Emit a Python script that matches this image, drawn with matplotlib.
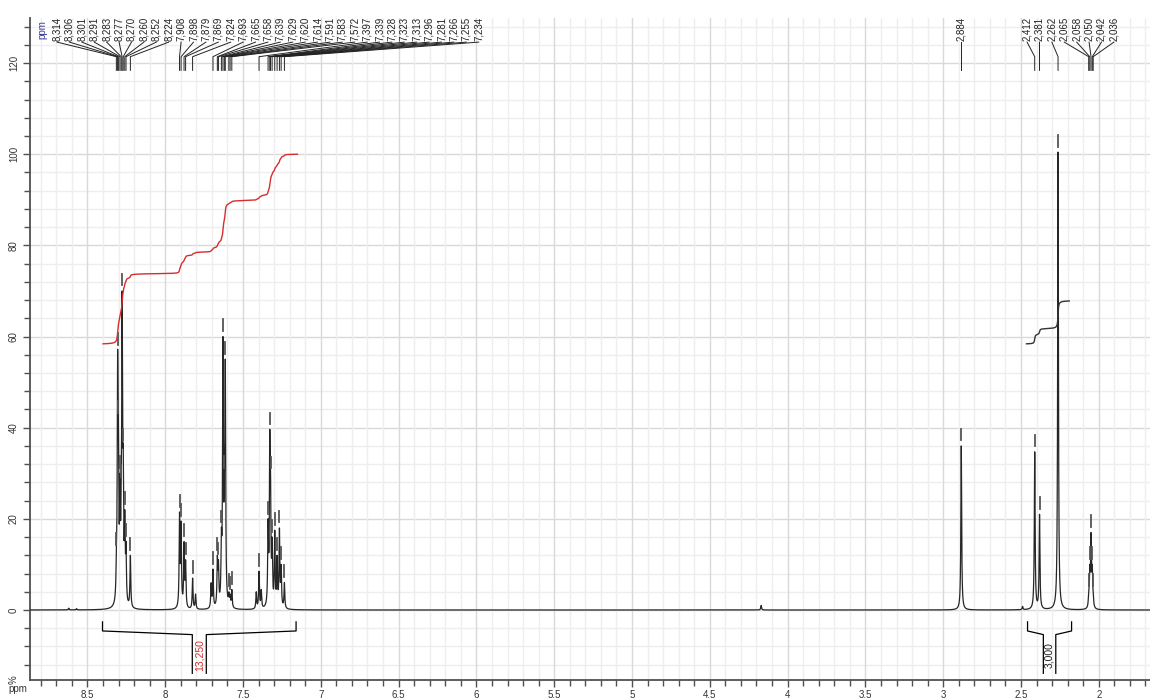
import matplotlib
matplotlib.use("Agg")
import matplotlib.pyplot as plt
import numpy as np
from matplotlib.ticker import MultipleLocator

plt.rcParams["font.family"] = ["Liberation Sans", "DejaVu Sans"]

# picked peaks: position (ppm), label and height (%)
PEAK_PPM = [8.314, 8.306, 8.301, 8.291, 8.283, 8.277, 8.270, 8.260, 8.252, 8.224,
            7.908, 7.898, 7.879, 7.869, 7.824,
            7.693, 7.665, 7.658, 7.639, 7.629, 7.620, 7.614, 7.591, 7.583, 7.572,
            7.397, 7.339, 7.328, 7.323, 7.313, 7.296, 7.281, 7.266, 7.255, 7.234,
            2.884,
            2.412, 2.381, 2.262, 2.065, 2.058, 2.050, 2.042, 2.036]
PEAK_LABELS = [f"{p:.3f}".replace(".", ",") for p in PEAK_PPM]
PEAK_HEIGHT = [13, 57, 42, 30, 28, 70, 36, 22, 15, 12,
               21.5, 19.5, 15, 11, 7,
               9, 12, 11, 18, 60, 30, 55, 4, 3.5, 4.5,
               8.5, 20, 39.5, 30, 16, 17.5, 12, 18, 10, 6,
               36,
               34.7, 21, 100.5, 4, 10, 17, 10, 4]

# small unpicked features
EXTRA_PPM = [8.62, 8.57, 7.805, 7.705, 7.415, 7.383, 4.17, 2.870, 2.49]
EXTRA_HEIGHT = [0.4, 0.3, 3.5, 6, 4, 4.5, 1.0, 1.5, 0.8]

# integrals: bracket range, value text, curve range and curve start/end (%)
INT_BRACKET = [(8.403, 7.159), (2.458, 2.175)]
INT_TEXT = ["13,250", "3,000"]
INT_TEXT_COLOR = ["#d62d2d", "#222222"]
INT_CURVE = [(8.40, 7.15), (2.465, 2.19)]
INT_START = [58.4, 58.4]
INT_END = [100.0, 67.8]

# label layout groups: (first index, last index + 1, ppm of first label)
LABEL_GROUPS = [(0, 35, 8.695), (35, 36, 2.884), (36, 44, 2.461)]
LABEL_STEP = 0.0797

GAMMA = 0.003


def lorentz(x, p, g):
    return g ** 2 / (g ** 2 + (x - p) ** 2)


pos = np.array(PEAK_PPM + EXTRA_PPM)
tgt = np.array(PEAK_HEIGHT + EXTRA_HEIGHT, dtype=float)
M = lorentz(pos[:, None], pos[None, :], GAMMA)
amp = tgt.copy()
for _ in range(600):
    amp = np.clip(amp + 0.5 * (tgt - M @ amp), 0, None)

ppm = np.linspace(8.87, 1.66, 60000)
spec = (amp[None, :] * lorentz(ppm[:, None], pos[None, :], GAMMA)).sum(axis=1)

fig = plt.figure(figsize=(11.5, 6.98), dpi=100)
ax = fig.add_axes([30 / 1150, 18 / 698, 1120 / 1150, 662.5 / 698])
ax.set_xlim(8.869, 1.671)
ax.set_ylim(-15.36, 130)

# background grid
for v in np.arange(-12, 130, 4):
    ax.axhline(v, color="#d9d9d9" if v % 20 == 0 else "#eeeeee", lw=1.0, zorder=0)
for v in np.arange(1.7, 8.9, 0.1):
    major = abs(v * 2 - round(v * 2)) < 1e-6
    ax.axvline(v, color="#d9d9d9" if major else "#eeeeee", lw=1.0, zorder=0)

ax.plot(ppm, spec, color="#262626", lw=0.9, zorder=3)

# peak-pick marks above each picked peak
for p in PEAK_PPM:
    h = spec[np.argmin(np.abs(ppm - p))]
    ax.plot([p, p], [h + 1.2, h + 3.8], color="#555555", lw=1.3, zorder=3)

# integral curves
for (a, b), v0, v1, col in zip(INT_CURVE, INT_START, INT_END, ["#d62d2d", "#333333"]):
    m = (ppm <= a) & (ppm >= b)
    cum = np.cumsum(spec[m])
    cum = (cum - cum[0]) / (cum[-1] - cum[0])
    ax.plot(ppm[m], v0 + cum * (v1 - v0), color=col, lw=1.0, zorder=4)

# integral brackets under the baseline
for (a, b), txt, col in zip(INT_BRACKET, INT_TEXT, INT_TEXT_COLOR):
    mid = (a + b) / 2
    half = 0.045 if a - b > 0.5 else 0.04
    ax.plot([a, a, mid + half, mid + half], [-2.6, -4.6, -5.4, -13.9], color="black", lw=0.9)
    ax.plot([b, b, mid - half, mid - half], [-2.6, -4.6, -5.4, -13.9], color="black", lw=0.9)
    ax.text(mid, -9.8, txt, rotation=90, ha="center", va="center", fontsize=7.5, color=col)

# peak labels on top
for i0, i1, start in LABEL_GROUPS:
    for k, i in enumerate(range(i0, i1)):
        lx = start - k * LABEL_STEP
        ax.plot([lx, PEAK_PPM[i], PEAK_PPM[i]], [124.6, 121.4, 118.4],
                color="#222222", lw=0.7, clip_on=False)
        ax.text(lx, 124.8, PEAK_LABELS[i], rotation=90, ha="center", va="bottom",
                fontsize=7, color="#222222", clip_on=False)
ax.text(8.792, 125.3, "ppm", rotation=90, ha="center", va="bottom",
        fontsize=7, color="#3a3a9a", clip_on=False)

# axes styling
for s in ["top", "right"]:
    ax.spines[s].set_visible(False)
for s in ["left", "bottom"]:
    ax.spines[s].set_color("#505050")
    ax.spines[s].set_linewidth(1.3)
ax.xaxis.set_major_locator(MultipleLocator(0.5))
ax.xaxis.set_minor_locator(MultipleLocator(0.1))
ax.set_yticks([0, 20, 40, 60, 80, 100, 120])
ax.yaxis.set_minor_locator(MultipleLocator(4))
ax.xaxis.set_major_formatter(plt.FuncFormatter(lambda v, _: f"{v:g}"))
ax.tick_params(axis="both", which="both", colors="#505050", labelcolor="#333333",
               labelsize=7, width=1.0)
ax.tick_params(axis="both", which="major", length=5)
ax.tick_params(axis="both", which="minor", length=4)
ax.tick_params(axis="y", pad=3)
ax.tick_params(axis="x", pad=2)
for t in ax.get_yticklabels():
    t.set_rotation(90)
    t.set_va("center")

fig.text(14 / 1150, 1 - 680 / 698, "%", rotation=90, ha="center", va="center",
         fontsize=7, color="#333333")
fig.text(18 / 1150, 1 - 689 / 698, "ppm", ha="center", va="center",
         fontsize=7, color="#333333")

fig.savefig("out.png", dpi=100)
